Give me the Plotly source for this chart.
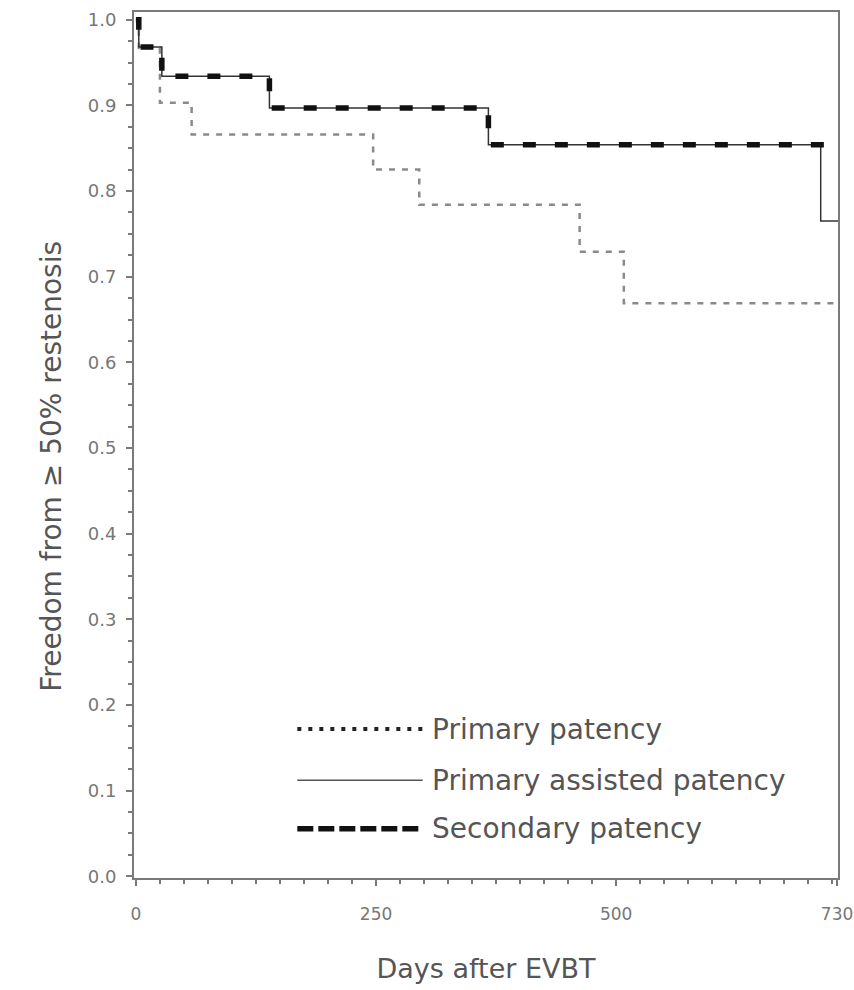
import plotly.graph_objects as go

# Kaplan-Meier estimates
primary_days = [0, 3, 25, 58, 247, 295, 462, 508, 730]
primary_surv = [1.0, 0.967, 0.903, 0.866, 0.825, 0.784, 0.729, 0.669, 0.669]

assisted_days = [0, 3, 27, 139, 367, 713, 733]
assisted_surv = [1.0, 0.968, 0.934, 0.897, 0.854, 0.765, 0.765]

secondary_days = [0, 3, 27, 139, 367, 730]
secondary_surv = [1.0, 0.968, 0.934, 0.897, 0.854, 0.854]

x_tickvals = [0, 250, 500, 730]
x_ticktext = ["0", "250", "500", "730"]

legend_labels = ["Primary patency", "Primary assisted patency", "Secondary patency"]
y_title = "Freedom from ≥ 50% restenosis"
x_title = "Days after EVBT"

FONT = "DejaVu Sans"
TEXT = "#555555"
AXIS = "#7a7a7a"

fig = go.Figure()
fig.add_trace(go.Scatter(x=primary_days, y=primary_surv, mode="lines",
                         line=dict(shape="hv", color="#8a8a8a", width=2.5, dash="6px,7px"),
                         name=legend_labels[0], showlegend=False, cliponaxis=False))
fig.add_trace(go.Scatter(x=assisted_days, y=assisted_surv, mode="lines",
                         line=dict(shape="hv", color="#333333", width=1.5),
                         name=legend_labels[1], showlegend=False, cliponaxis=False))
fig.add_trace(go.Scatter(x=secondary_days, y=secondary_surv, mode="lines",
                         line=dict(shape="hv", color="#111111", width=5.5, dash="13px,19px"),
                         name=legend_labels[2], showlegend=False, cliponaxis=False))

# custom legend (long line samples like the reference)
leg_rows = [0.172, 0.113, 0.057]
leg_styles = [dict(color="#222222", width=4, dash="4px,7px"),
              dict(color="#555555", width=1.5),
              dict(color="#111111", width=5.5, dash="16px,5px")]
for yy, st, lab in zip(leg_rows, leg_styles, legend_labels):
    fig.add_shape(type="line", xref="paper", yref="paper", x0=0.232, x1=0.410, y0=yy, y1=yy,
                  line=st)
    fig.add_annotation(xref="paper", yref="paper", x=0.420, y=yy, text=lab, showarrow=False,
                       xanchor="left", yanchor="middle",
                       font=dict(family=FONT, size=28, color=TEXT))

# y-axis title placed as in the reference (slightly below the plot centre)
fig.add_annotation(xref="paper", yref="paper", x=-0.1165, y=0.476, text=y_title,
                   textangle=-90, showarrow=False, xanchor="center", yanchor="middle",
                   font=dict(family=FONT, size=28, color=TEXT))

fig.update_layout(
    width=854, height=990,
    margin=dict(l=134, r=16, t=12, b=112),
    paper_bgcolor="white", plot_bgcolor="white",
    font=dict(family=FONT, color=TEXT),
    showlegend=False,
)
fig.update_xaxes(
    automargin=False,
    range=[-2, 731], tickvals=x_tickvals, ticktext=x_ticktext,
    ticks="outside", ticklen=6, tickwidth=1.5, tickcolor=AXIS,
    minor=dict(dtick=25, tick0=0, ticks="outside", ticklen=4, tickcolor=AXIS, tickwidth=1.5),
    showline=True, linecolor=AXIS, linewidth=2, mirror=True, showgrid=False, zeroline=False,
    ticklabelstandoff=14,
    tickfont=dict(size=17, color="#777777", family=FONT),
    title=dict(text=x_title, font=dict(size=27, color=TEXT, family=FONT), standoff=36),
)
fig.update_yaxes(
    automargin=False,
    range=[-0.002, 1.009], dtick=0.1, tick0=0, tickformat=".1f",
    ticks="outside", ticklen=6, tickwidth=1.5, tickcolor=AXIS,
    minor=dict(dtick=0.025, tick0=0, ticks="outside", ticklen=4, tickcolor=AXIS, tickwidth=1.5),
    showline=True, linecolor=AXIS, linewidth=2, mirror=True, showgrid=False, zeroline=False,
    ticklabelstandoff=6,
    tickfont=dict(size=18, color="#777777", family=FONT),
)

fig.write_html("out.html", config={"displayModeBar": False},
               post_script="document.body.style.margin='0px';")
